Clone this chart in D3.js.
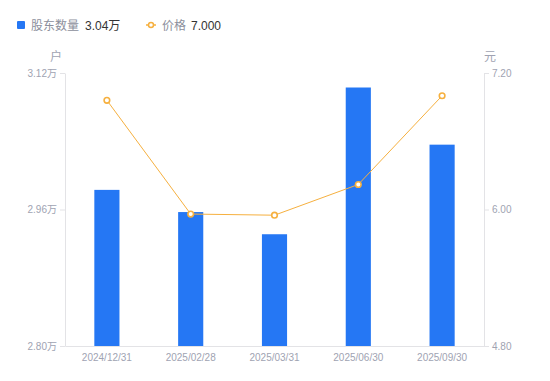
<!DOCTYPE html>
<html>
<head>
<meta charset="utf-8">
<script src="https://cdn.jsdelivr.net/npm/d3@7"></script>
<style>
	body { margin: 0; background: #fff; }
	svg { display: block; font-family: "Liberation Sans", "Noto Sans CJK SC", sans-serif; }
</style>
</head>
<body>
<div id="chart"></div>
<script>
// report dates
const dates = ["2024/12/31", "2025/02/28", "2025/03/31", "2025/06/30", "2025/09/30"];
// number of shareholders (户)
const holders = [29830, 29570, 29310, 31030, 30360];
// share price (元)
const prices = [6.96, 5.96, 5.95, 6.22, 7.0];
const holderTicks = [28000, 29600, 31200];
const priceTicks = [4.8, 6.0, 7.2];

const width = 550,
	height = 381;
const plot = { left: 65, right: 484, top: 73, bottom: 346 };

const barColor = "#2577f4";
const lineColor = "#f6b03f";
const axisColor = "#e3e3e6";
const labelColor = "#a0a3b2";

const svg = d3
	.select("#chart")
	.append("svg")
	.attr("width", width)
	.attr("height", height);

const x = d3.scaleBand().domain(dates).range([plot.left, plot.right]);
const yL = d3.scaleLinear().domain([28000, 31200]).range([plot.bottom, plot.top]);
const yR = d3.scaleLinear().domain([4.8, 7.2]).range([plot.bottom, plot.top]);

const wan = (v) => (v / 10000).toFixed(2) + "万";

// axes
const axisL = svg
	.append("g")
	.attr("transform", `translate(${plot.left},0)`)
	.call(d3.axisLeft(yL).tickValues(holderTicks).tickFormat(wan).tickSize(5).tickSizeOuter(0).tickPadding(3));

const axisR = svg
	.append("g")
	.attr("transform", `translate(${plot.right},0)`)
	.call(d3.axisRight(yR).tickValues(priceTicks).tickFormat(d3.format(".2f")).tickSize(5).tickSizeOuter(0).tickPadding(3));

const axisB = svg
	.append("g")
	.attr("transform", `translate(0,${plot.bottom})`)
	.call(d3.axisBottom(x).tickSize(0).tickSizeOuter(0).tickPadding(8));

[axisL, axisR, axisB].forEach((g) => {
	g.selectAll("path, line").attr("stroke", axisColor);
	g.selectAll("text").attr("fill", labelColor).style("font-size", "10px");
	g.attr("font-family", null).attr("font-size", null);
});

// unit labels
svg.append("text").attr("x", 56).attr("y", 61).attr("text-anchor", "middle")
	.attr("fill", labelColor).style("font-size", "12px").text("户");
svg.append("text").attr("x", 490).attr("y", 61).attr("text-anchor", "middle")
	.attr("fill", labelColor).style("font-size", "12px").text("元");

// bars
const barW = x.bandwidth() * 0.3;
svg
	.append("g")
	.selectAll("rect")
	.data(holders)
	.join("rect")
	.attr("x", (d, i) => x(dates[i]) + x.bandwidth() / 2 - barW / 2)
	.attr("y", (d) => yL(d))
	.attr("width", barW)
	.attr("height", (d) => plot.bottom - yL(d))
	.attr("fill", barColor);

// price line
const line = d3
	.line()
	.x((d, i) => x(dates[i]) + x.bandwidth() / 2)
	.y((d) => yR(d));

svg
	.append("path")
	.datum(prices)
	.attr("d", line)
	.attr("fill", "none")
	.attr("stroke", lineColor)
	.attr("stroke-width", 1);

svg
	.append("g")
	.selectAll("circle")
	.data(prices)
	.join("circle")
	.attr("cx", (d, i) => x(dates[i]) + x.bandwidth() / 2)
	.attr("cy", (d) => yR(d))
	.attr("r", 2.8)
	.attr("fill", "#fff")
	.attr("stroke", lineColor)
	.attr("stroke-width", 1.6);

// legend
const legend = svg.append("g").style("font-size", "12px");
legend.append("rect").attr("x", 17).attr("y", 21).attr("width", 8).attr("height", 8).attr("rx", 1).attr("fill", barColor);
legend.append("text").attr("x", 31).attr("y", 29.5).attr("fill", "#8c8f9c").text("股东数量");
legend.append("text").attr("x", 85).attr("y", 29.5).attr("fill", "#333").text(wan(holders[holders.length - 1]));

legend.append("line").attr("x1", 146).attr("x2", 156).attr("y1", 25).attr("y2", 25).attr("stroke", lineColor).attr("stroke-width", 1.5);
legend.append("circle").attr("cx", 151).attr("cy", 25).attr("r", 2.5).attr("fill", "#fff").attr("stroke", lineColor).attr("stroke-width", 1.5);
legend.append("text").attr("x", 162).attr("y", 29.5).attr("fill", "#8c8f9c").text("价格");
legend.append("text").attr("x", 191).attr("y", 29.5).attr("fill", "#333").text(prices[prices.length - 1].toFixed(3));
</script>
</body>
</html>
